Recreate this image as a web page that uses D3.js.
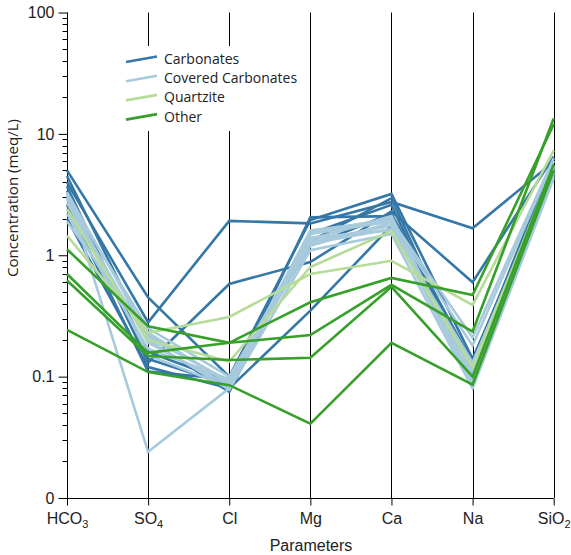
<!DOCTYPE html>
<html><head><meta charset="utf-8">
<script src="https://cdn.jsdelivr.net/npm/d3@7"></script>
<style>body{margin:0;background:#fff}svg{display:block}</style>
</head><body><svg id="c" width="571" height="555"></svg>
<script>
const parameters = ["HCO3","SO4","Cl","Mg","Ca","Na","SiO2"];
const paramLabels = [["HCO","3"],["SO","4"],["Cl",""],["Mg",""],["Ca",""],["Na",""],["SiO","2"]];
const groups = ["Carbonates","Covered Carbonates","Quartzite","Other"];
const groupColors = ["#3577a6","#a8cadd","#b5dc98","#36a02a"];

// values per sample: HCO3, SO4, Cl, Mg, Ca, Na, SiO2 (meq/L)
const carbonates = [
  [4.0, 0.28, 1.92, 1.83, 2.75, 1.67, 5.9],
  [3.4, 0.13, 0.58, 0.88, 2.3, 0.60, 6.5],
  [2.0, 0.12, 0.08, 0.35, 1.75, 0.12, 5.2],
  [5.0, 0.45, 0.10, 1.95, 3.2, 0.14, 4.9],
  [3.0, 0.16, 0.09, 1.30, 2.95, 0.10, 5.0],
  [4.5, 0.20, 0.075, 1.50, 2.6, 0.095, 5.5],
  [2.6, 0.11, 0.095, 1.20, 2.2, 0.13, 6.0],
  [3.7, 0.14, 0.085, 2.05, 2.1, 0.11, 5.3]
];
const coveredCarbonates = [
  [3.3, 0.024, 0.08, 1.50, 1.90, 0.09, 4.5],
  [3.3, 0.22, 0.09, 1.55, 2.00, 0.10, 5.0],
  [2.9, 0.19, 0.085, 1.30, 1.75, 0.085, 4.7],
  [3.0, 0.25, 0.10, 1.40, 1.60, 0.11, 5.4],
  [2.2, 0.17, 0.095, 1.20, 1.85, 0.18, 6.0],
  [2.7, 0.20, 0.078, 1.10, 1.50, 0.08, 4.3],
  [3.1, 0.15, 0.082, 1.35, 2.10, 0.095, 5.2],
  [1.9, 0.23, 0.088, 1.60, 1.95, 0.21, 6.3],
  [2.4, 0.21, 0.092, 1.25, 1.65, 0.13, 4.8]
];
const quartzite = [
  [2.4, 0.20, 0.133, 0.80, 1.58, 0.12, 5.4],
  [1.45, 0.23, 0.31, 0.70, 0.90, 0.39, 7.3]
];
const other = [
  [1.12, 0.26, 0.19, 0.41, 0.65, 0.47, 12.0],
  [0.70, 0.157, 0.19, 0.22, 0.57, 0.235, 13.4],
  [0.62, 0.148, 0.137, 0.143, 0.55, 0.10, 5.6],
  [0.243, 0.109, 0.085, 0.041, 0.19, 0.086, 5.0]
];
const seriesData = [carbonates, coveredCarbonates, quartzite, other];
const yTickValues = [0.01, 0.1, 1, 10, 100];
const yTickLabels = ["0", "0.1", "1", "10", "100"];

const svg = d3.select("#c");
const plotTop = 12.5, plotBottom = 498, plotLeft = 67, plotRight = 553.7;
const x = d3.scalePoint().domain(parameters).range([plotLeft, plotRight]);
const y = d3.scaleLog().domain([0.01, 100]).range([plotBottom, plotTop]);

// vertical parameter lines
svg.append("g").selectAll("line").data(parameters.slice(1)).join("line")
  .attr("x1", d => Math.round(x(d)) + 0.5).attr("x2", d => Math.round(x(d)) + 0.5)
  .attr("y1", plotTop).attr("y2", plotBottom)
  .attr("stroke", "#000").attr("stroke-width", 1);

// minor ticks
const minor = [];
for (let e = -2; e < 2; e++) for (let m = 2; m <= 9; m++) minor.push(m * Math.pow(10, e));

const yAxis = svg.append("g").attr("transform", `translate(${Math.round(plotLeft)+0.5},0)`)
  .call(d3.axisLeft(y).tickValues(yTickValues).tickFormat((d, i) => yTickLabels[i]).tickSize(9).tickPadding(4));
yAxis.selectAll("text").attr("font-family", "Liberation Sans, Arial, sans-serif").attr("font-size", 16).attr("fill", "#222");
yAxis.select(".domain").attr("d", `M0,${plotTop}V${plotBottom}`);
svg.append("g").attr("transform", `translate(${Math.round(plotLeft)+0.5},0)`)
  .selectAll("line").data(minor).join("line")
  .attr("x1", -5).attr("x2", 0)
  .attr("y1", d => Math.round(y(d)) + 0.5).attr("y2", d => Math.round(y(d)) + 0.5)
  .attr("stroke", "#000");

const xAxis = svg.append("g").attr("transform", `translate(0,${Math.round(plotBottom)+0.5})`)
  .call(d3.axisBottom(x).tickSize(7).tickFormat(() => ""));
xAxis.select(".domain").attr("d", `M${plotLeft},0H${plotRight}`);
xAxis.selectAll(".tick").each(function(d, i) {
  const t = d3.select(this).append("text")
    .attr("y", 25).attr("text-anchor", "middle")
    .attr("font-family", "Liberation Sans, Arial, sans-serif").attr("font-size", 16).attr("fill", "#222");
  t.append("tspan").text(paramLabels[i][0]);
  if (paramLabels[i][1]) t.append("tspan").attr("font-size", 11).attr("dy", 4).text(paramLabels[i][1]);
});

// data lines
const line = d3.line().x((d, i) => x(parameters[i])).y(d => y(d));
seriesData.forEach((rows, gi) => {
  svg.append("g").selectAll("path").data(rows).join("path")
    .attr("d", line).attr("fill", "none")
    .attr("stroke", groupColors[gi]).attr("stroke-width", 2.6)
    .attr("stroke-linejoin", "miter");
});

// legend
const lg = svg.append("g");
lg.append("rect").attr("x", 112).attr("y", 46).attr("width", 190).attr("height", 85).attr("fill", "#fff");
groups.forEach((g, i) => {
  const cy = 59 + i * 19.2;
  lg.append("line").attr("x1", 126).attr("x2", 157).attr("y1", cy + 3).attr("y2", cy - 2.5)
    .attr("stroke", groupColors[i]).attr("stroke-width", 2.6);
  lg.append("text").attr("x", 164).attr("y", cy).attr("dy", "0.36em")
    .attr("font-family", "Open Sans, sans-serif").attr("font-size", 14).attr("fill", "#222").text(g);
});

// axis titles
svg.append("text").attr("transform", "translate(18,198) rotate(-90)").attr("text-anchor", "middle")
  .attr("font-family", "Open Sans, sans-serif").attr("font-size", 15)
  .attr("textLength", 158).attr("lengthAdjust", "spacingAndGlyphs").attr("fill", "#222")
  .text("Concentration (meq/L)");
svg.append("text").attr("x", 311).attr("y", 551).attr("text-anchor", "middle")
  .attr("font-family", "Liberation Sans, Arial, sans-serif").attr("font-size", 16).attr("fill", "#222")
  .text("Parameters");
</script></body></html>
